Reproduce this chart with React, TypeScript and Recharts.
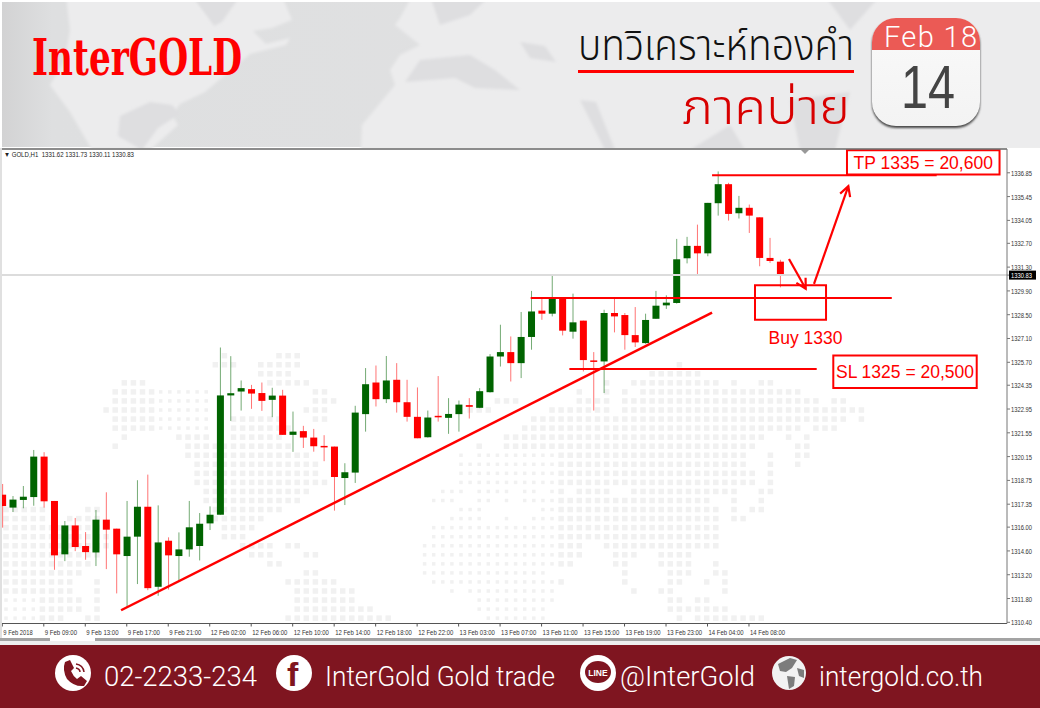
import { Bar, ComposedChart, ReferenceArea, ReferenceDot, ReferenceLine, XAxis, YAxis } from 'recharts'

// GOLD H1 candles
const opens = [1317.91,1317.15,1317.60,1317.77,1320.15,1317.54,1314.40,1316.10,1314.89,1314.51,1316.44,1315.91,1314.30,1315.44,1317.20,1312.49,1315.20,1314.30,1314.69,1314.89,1316.22,1316.73,1323.75,1323.98,1324.12,1323.89,1323.49,1323.74,1321.43,1321.65,1321.27,1320.78,1320.74,1318.89,1319.21,1322.65,1324.51,1323.53,1324.67,1323.35,1322.49,1321.29,1322.55,1322.43,1322.65,1323.18,1323.02,1323.94,1326.04,1326.30,1325.65,1327.19,1328.74,1328.56,1329.44,1327.50,1328.15,1325.81,1325.75,1328.60,1328.48,1327.30,1326.83,1328.26,1329.05,1329.19,1331.82,1332.55,1332.11,1335.06,1336.18,1334.47,1334.79,1334.23,1331.84,1331.62]
const closes = [1317.24,1317.62,1317.79,1320.15,1317.52,1314.34,1316.10,1314.83,1314.53,1316.44,1315.85,1314.40,1315.44,1317.20,1312.41,1315.10,1314.34,1314.69,1315.99,1316.20,1316.73,1323.75,1323.88,1324.18,1323.86,1323.43,1323.74,1321.43,1321.62,1321.27,1320.76,1320.70,1318.95,1319.23,1322.74,1324.41,1323.53,1324.63,1323.35,1322.49,1321.23,1322.45,1322.47,1322.66,1323.21,1323.08,1324.00,1326.04,1326.30,1325.65,1327.19,1328.69,1328.56,1329.44,1327.56,1328.05,1325.83,1325.73,1328.60,1328.40,1327.30,1326.87,1328.19,1329.03,1329.21,1331.76,1332.55,1332.11,1335.08,1336.18,1334.43,1334.79,1334.33,1331.84,1331.66,1330.83]
const highs = [1318.54,1317.83,1318.42,1320.54,1320.41,1317.54,1316.36,1316.54,1315.71,1317.01,1318.05,1315.91,1317.54,1318.76,1319.09,1317.28,1315.40,1315.69,1317.54,1316.83,1317.22,1326.57,1326.06,1324.63,1324.37,1324.51,1324.20,1324.08,1322.80,1321.96,1321.78,1321.41,1320.74,1319.76,1323.14,1325.36,1325.51,1326.07,1325.65,1324.67,1324.22,1322.86,1324.89,1323.59,1323.45,1323.59,1324.18,1326.18,1327.91,1327.22,1328.66,1329.90,1329.44,1330.86,1329.48,1329.74,1328.15,1326.30,1328.79,1329.44,1328.60,1328.95,1328.56,1329.90,1329.64,1332.96,1333.08,1333.80,1335.08,1336.93,1336.26,1335.49,1334.98,1334.23,1333.02,1331.73]
const lows = [1315.97,1316.89,1317.11,1317.26,1317.15,1313.49,1314.00,1314.59,1314.08,1313.71,1313.53,1312.10,1311.27,1312.65,1312.29,1311.96,1312.33,1312.84,1314.26,1314.04,1315.83,1316.73,1322.25,1322.86,1322.96,1322.84,1322.47,1321.43,1320.43,1320.66,1320.44,1319.88,1316.97,1317.30,1318.60,1321.62,1323.10,1323.30,1322.74,1322.21,1321.23,1321.27,1322.21,1321.49,1321.62,1322.39,1323.00,1323.92,1325.45,1324.57,1324.77,1326.44,1328.20,1328.40,1327.28,1327.09,1325.16,1322.86,1323.89,1327.46,1326.44,1326.60,1326.79,1328.26,1328.84,1329.15,1331.52,1330.86,1331.94,1334.33,1334.04,1334.16,1333.31,1331.35,1331.55,1330.11]

const timeLabels = ['9 Feb 2018','9 Feb 09:00','9 Feb 13:00','9 Feb 17:00','9 Feb 21:00','12 Feb 02:00','12 Feb 06:00','12 Feb 10:00','12 Feb 14:00','12 Feb 18:00','12 Feb 22:00','13 Feb 03:00','13 Feb 07:00','13 Feb 11:00','13 Feb 15:00','13 Feb 19:00','13 Feb 23:00','14 Feb 04:00','14 Feb 08:00']
const priceTicks = [1336.85,1335.45,1334.05,1332.70,1331.30,1330.83,1329.90,1328.50,1327.10,1325.70,1324.35,1322.95,1321.55,1320.15,1318.75,1317.35,1316.00,1314.60,1313.20,1311.80,1310.40]
const lastPrice = 1330.83

// trader's drawings, in bar index / price
const trendLine = [{ x: 11.45, y: 1311.11 }, { x: 68.44, y: 1328.62 }]
const tpLine = [{ x: 68.44, y: 1336.71 }, { x: 90.1, y: 1336.71 }]
const buyLine = [{ x: 50.95, y: 1329.48 }, { x: 85.77, y: 1329.48 }]
const slLine = [{ x: 54.68, y: 1325.3 }, { x: 78.53, y: 1325.3 }]
const dropArrow = [{ x: 75.86, y: 1331.78 }, { x: 77.47, y: 1330.03 }]
const riseArrow = [{ x: 78.27, y: 1330.31 }, { x: 81.58, y: 1336.06 }]

// watermark dot map: row, then runs of columns
const dotRows: [number, number[][]][] = [
  [0, [[24,24],[30,32]]],
  [1, [[23,25],[28,32],[74,74]]],
  [2, [[28,31],[71,76]]],
  [3, [[13,15],[29,33],[66,66],[69,78],[80,80],[83,84]]],
  [4, [[12,22],[34,35],[63,63],[66,66],[68,68],[70,87]]],
  [5, [[12,22],[34,36],[54,56],[63,66],[68,89],[91,92]]],
  [6, [[11,22],[33,35],[51,53],[60,66],[68,94]]],
  [7, [[12,22],[25,30],[34,35],[58,92],[94,94]]],
  [8, [[12,22],[25,31],[57,87],[89,91]]],
  [9, [[13,13],[19,22],[25,30],[55,83],[86,86],[88,88]]],
  [10, [[12,12],[20,31],[52,52],[55,82],[87,88]]],
  [11, [[20,33],[50,50],[52,81],[84,84],[87,88]]],
  [12, [[21,34],[50,81],[84,84],[87,87]]],
  [13, [[21,34],[50,82],[84,84]]],
  [14, [[21,35],[50,82],[84,84]]],
  [15, [[22,33],[48,50],[52,55],[57,58],[60,61],[63,66],[69,80],[83,84]]],
  [16, [[22,32],[47,49],[52,53],[55,55],[57,77],[80,80],[83,83]]],
  [17, [[0,4],[9,10],[23,30],[50,52],[59,78],[80,80],[82,83]]],
  [18, [[0,4],[7,10],[23,28],[49,52],[55,55],[58,78],[80,81]]],
  [19, [[0,10],[24,27],[47,78]]],
  [20, [[0,11],[24,26],[47,78]]],
  [21, [[0,11],[26,29],[31,32],[46,63],[66,78]]],
  [22, [[0,10],[27,29],[33,34],[46,63],[67,69],[72,75]]],
  [23, [[0,9],[29,30],[46,62],[67,68],[72,75],[78,78]]],
  [24, [[0,8],[33,34],[46,59],[68,68],[73,75],[78,79]]],
  [25, [[0,7],[10,10],[31,36],[47,61],[68,68],[73,74],[77,77],[79,79]]],
  [26, [[0,7],[10,10],[32,38],[49,49],[51,60],[69,69],[72,73],[79,79]]],
  [27, [[0,8],[10,10],[32,38],[52,60],[73,74],[76,77]]],
  [28, [[0,8],[10,10],[32,40],[52,59],[73,79]]],
  [29, [[0,6],[9,10],[31,42],[53,59],[74,74],[76,83]]],
]

const candles = opens.map((open, i) => ({ i, open, close: closes[i], high: highs[i], low: lows[i] }))
const tickIndexes = timeLabels.map((_, n) => n * 4)

const RED = '#ff0000'
const GREEN = '#006400'
const AXIS_FONT = '"Liberation Sans", sans-serif'

function Candle(props: any) {
  const { x, y, width, height, payload } = props
  const up = payload.close >= payload.open
  const color = up ? GREEN : RED
  const cx = x + width / 2
  const perUnit = height / (payload.high - payload.low)
  const top = y + (payload.high - Math.max(payload.open, payload.close)) * perUnit
  const bottom = y + (payload.high - Math.min(payload.open, payload.close)) * perUnit
  return (
    <g>
      <line x1={cx} x2={cx} y1={y} y2={y + height} stroke={color} strokeOpacity={0.55} />
      <rect x={x} y={top} width={width} height={Math.max(bottom - top, 1.5)} fill={color} />
    </g>
  )
}

function Arrow(props: any) {
  const { x1, y1, x2, y2 } = props
  const a = Math.atan2(y2 - y1, x2 - x1)
  const wing = (d: number) => `${x2 - 11 * Math.cos(a + d)},${y2 - 11 * Math.sin(a + d)}`
  return (
    <g stroke={RED} strokeWidth={2.2} fill="none">
      <line x1={x1} y1={y1} x2={x2} y2={y2} />
      <polyline points={`${wing(0.5)} ${x2},${y2} ${wing(-0.5)}`} />
    </g>
  )
}

function TimeTick({ x, y, payload }: any) {
  const label = timeLabels[payload.value / 4]
  return (
    <text x={x + 1} y={y + 6} fontSize={7.5} fontFamily={AXIS_FONT} fill="#333" textLength={label.length * 2.93} lengthAdjust="spacingAndGlyphs">
      {label}
    </text>
  )
}

function PriceTick({ x, y, payload }: any) {
  const black = payload.value === lastPrice
  return (
    <g>
      {black && <rect x={x - 3} y={y - 4.5} width={27} height={9} fill="#000" />}
      <text x={x - 1} y={y + 3} fontSize={7.5} fontFamily={AXIS_FONT} fill={black ? '#fff' : '#333'} textLength={21} lengthAdjust="spacingAndGlyphs">
        {payload.value.toFixed(2)}
      </text>
    </g>
  )
}

function DotMap() {
  return (
    <svg width={1040} height={708} style={{ position: 'absolute', left: 0, top: 0 }}>
      {dotRows.flatMap(([row, runs]) =>
        runs.flatMap(([from, to]) => {
          const dots = []
          for (let c = from; c <= to; c++) {
            const small = (c >= 46 && c <= 60 && row >= 11) || (c <= 3 && row >= 27) || (c >= 17 && c <= 22 && row <= 8)
            const s = small ? 3.5 : 5.5
            dots.push(<rect key={`${row}-${c}`} x={6 + 9.1 * c - s / 2} y={355.7 + 9.05 * row - s / 2} width={s} height={s} fill="#f1f1f1" />)
          }
          return dots
        })
      )}
    </svg>
  )
}

function Banner() {
  const thai = '"Noto Sans Thai", "Noto Sans Thai Looped", "Noto Sans", sans-serif'
  return (
    <svg width={1040} height={148} style={{ position: 'absolute', left: 0, top: 0 }}>
      <defs>
        <linearGradient id="edge" x1="0" x2="1" y1="0" y2="0">
          <stop offset="0" stopColor="#d2d2d3" />
          <stop offset="0.05" stopColor="#dedfe0" />
          <stop offset="1" stopColor="#e2e2e3" />
        </linearGradient>
        <linearGradient id="sheet" x1="0" x2="0" y1="0" y2="1">
          <stop offset="0" stopColor="#fafafa" />
          <stop offset="1" stopColor="#f3f3f3" />
        </linearGradient>
        <filter id="soft"><feGaussianBlur stdDeviation="1.5" /></filter>
        <filter id="calShadow"><feGaussianBlur stdDeviation="1.2" /></filter>
        <clipPath id="cal"><rect x={872} y={18} width={108} height={108} rx={24} /></clipPath>
      </defs>
      <rect x={0} y={2} width={1040} height={145} fill="url(#edge)" />
      <g fill="#ececed" filter="url(#soft)">
        <path d="M66 -4 L192 -4 L215 22 L222 10 L240 -4 L282 -4 L292 20 L272 28 L253 31 L266 44 L290 38 L286 45 L250 54 L225 75 L205 92 L180 104 L172 115 L178 125 L150 150 L92 150 L70 112 L50 85 L65 60 L70 30 Z" />
        <path d="M361 150 L362 125 L395 85 L390 70 L400 55 L420 45 L395 25 L400 18 L412 -4 L1044 -4 L1044 150 Z" />
      </g>
      <g fill="#dedee0" filter="url(#soft)">
        <path d="M120 116 L150 102 L172 105 L180 114 L158 128 L142 150 L118 136 Z" />
        <path d="M193 -4 L240 -4 L222 22 L214 26 Z" />
        <path d="M420 60 L470 55 L495 70 L520 90 L475 88 L455 78 L405 82 Z" />
        <path d="M430 -4 L490 -4 L470 15 L440 25 Z" />
        <path d="M520 42 L545 46 L556 62 L530 58 Z" />
        <path d="M580 100 L596 102 L615 150 L605 150 Z" />
        <path d="M790 100 L850 92 L835 150 L800 150 Z" />
        <path d="M825 -4 L880 -4 L850 30 Z" />
        <path d="M690 150 L730 125 L745 150 Z" />
      </g>
      <rect x={0} y={0} width={1040} height={2} fill="#fff" />
      <rect x={0} y={2} width={2} height={146} fill="#fff" />

      <text x={32} y={75} fontFamily='"DejaVu Serif", serif' fontWeight={700} fontSize={50} fill={RED} textLength={210} lengthAdjust="spacingAndGlyphs">InterGOLD</text>

      <text x={578} y={60} fontFamily={thai} fontWeight={300} fontSize={42} fill="#111" textLength={276} lengthAdjust="spacingAndGlyphs">บทวิเคราะห์ทองคำ</text>
      <rect x={578} y={70} width={276} height={3} fill={RED} />
      <text x={682} y={124} fontFamily={thai} fontWeight={300} fontSize={48} fill="#d80000" textLength={168} lengthAdjust="spacingAndGlyphs">ภาคบ่าย</text>

      <rect x={872} y={20} width={108} height={108} rx={24} fill="#444" filter="url(#calShadow)" />
      <g clipPath="url(#cal)">
        <rect x={872} y={18} width={108} height={108} fill="url(#sheet)" />
        <rect x={872} y={18} width={108} height={32} fill="#eb5a55" />
      </g>
      <text x={884} y={47} fontFamily="Roboto, sans-serif" fontWeight={300} fontSize={29} fill="#fff" textLength={93}>Feb 18</text>
      <text x={901} y={108} fontFamily='"Liberation Sans", sans-serif' fontSize={61} fill="#444" textLength={54} lengthAdjust="spacingAndGlyphs">14</text>
    </svg>
  )
}

function Footer() {
  const dark = '#7f1520'
  const textProps = { y: 686, fontFamily: 'Roboto, sans-serif', fontWeight: 300, fontSize: 28, fill: '#fff', lengthAdjust: 'spacingAndGlyphs' as const }
  return (
    <svg width={1040} height={72} viewBox="0 636 1040 72" style={{ position: 'absolute', left: 0, top: 636 }}>
      <rect x={0} y={638} width={1040} height={3} fill="#a3a3a3" />
      <rect x={50} y={638} width={45} height={3} fill="#fff" />
      <rect x={0} y={641} width={1040} height={4} fill="#eeeeee" />
      <rect x={0} y={645} width={1040} height={63} fill={dark} />

      <circle cx={73} cy={673} r={18} fill="#fff" />
      <path d="M65 662 L70 660 L74 668 L71 671 Q73 676 77 679 L81 676 L87 681 L84 686 Q74 687 67 679 Q62 670 65 662 Z" fill={dark} />
      <path d="M76 664 Q83 665 84 672 M76 668 Q80 669 80 672" stroke={dark} strokeWidth={1.5} fill="none" />
      <text x={104} textLength={153} {...textProps}>02-2233-234</text>

      <circle cx={294} cy={673} r={18} fill="#fff" />
      <text x={287} y={686} fontFamily='"Liberation Sans", sans-serif' fontWeight={700} fontSize={34} fill={dark}>f</text>
      <text x={325} textLength={230} {...textProps}>InterGold Gold trade</text>

      <circle cx={598} cy={673} r={18} fill="#fff" />
      <ellipse cx={598} cy={672} rx={13} ry={11} fill={dark} />
      <text x={598} y={675.5} textAnchor="middle" fontFamily='"Liberation Sans", sans-serif' fontWeight={700} fontSize={8.5} fill="#fff">LINE</text>
      <text x={620} textLength={135} {...textProps}>@InterGold</text>

      <circle cx={789} cy={673} r={17} fill="#f2f2f2" />
      <path d="M778 664 L790 658 L797 660 L792 668 L786 672 L780 671 Z M787 676 L795 677 L794 686 L789 689 Z M797 668 L804 670 L804 678 L799 676 Z" fill="#7c7c7c" />
      <text x={819} textLength={164} {...textProps}>intergold.co.th</text>
    </svg>
  )
}

export default function App() {
  return (
    <div style={{ position: 'absolute', left: 0, top: 0, width: 1040, height: 708, overflow: 'hidden', background: '#fff' }}>
      <DotMap />
      <Banner />
      <Footer />
      <div style={{ position: 'absolute', left: 0, top: 0 }}>
        <ComposedChart width={1040} height={708} data={candles} margin={{ top: 149, right: 0, bottom: 0, left: 2 }}>
          <XAxis
            dataKey="i"
            type="number"
            domain={[-0.03, 96.88]}
            allowDataOverflow
            ticks={tickIndexes}
            interval={0}
            height={84.5}
            tick={<TimeTick />}
            tickSize={3}
            stroke="#555"
          />
          <YAxis
            orientation="right"
            domain={[1310.33, 1338.25]}
            allowDataOverflow
            ticks={priceTicks}
            interval={0}
            width={33}
            tick={<PriceTick />}
            tickSize={3}
            stroke="#777"
          />
          <ReferenceLine y={1338.25} stroke="#666" strokeWidth={1.5} />
          <ReferenceLine y={lastPrice} stroke="#dcdcdc" strokeWidth={2} />
          <Bar dataKey={(d: any) => [d.low, d.high]} barSize={7} shape={<Candle />} isAnimationActive={false} />

          <ReferenceLine segment={trendLine} stroke={RED} strokeWidth={2.5} />
          <ReferenceLine segment={tpLine} stroke={RED} strokeWidth={2} />
          <ReferenceLine segment={buyLine} stroke={RED} strokeWidth={2} />
          <ReferenceLine segment={slLine} stroke={RED} strokeWidth={2} />
          <ReferenceLine segment={dropArrow} shape={<Arrow />} />
          <ReferenceLine segment={riseArrow} shape={<Arrow />} />

          <ReferenceArea x1={81.45} x2={96.16} y1={1336.75} y2={1338.18} ifOverflow="visible" fill="none" stroke={RED} strokeWidth={2}
            label={{ value: 'TP 1335 = 20,600', position: 'center', fill: RED, fontSize: 17.5, fontFamily: AXIS_FONT }} />
          <ReferenceArea x1={72.58} x2={79.43} y1={1328.2} y2={1330.23} ifOverflow="visible" fill="none" stroke={RED} strokeWidth={2} />
          <ReferenceArea x1={80.13} x2={93.96} y1={1324.18} y2={1326.1} ifOverflow="visible" fill="none" stroke={RED} strokeWidth={2}
            label={{ value: 'SL 1325 = 20,500', position: 'center', fill: RED, fontSize: 17.5, fontFamily: AXIS_FONT }} />
          <ReferenceDot x={77.45} y={1327.14} r={0} stroke="none" fill="none"
            label={{ value: 'Buy 1330', position: 'center', fill: RED, fontSize: 17.5, fontFamily: AXIS_FONT }} />
        </ComposedChart>
      </div>
      <div style={{ position: 'absolute', left: 0, top: 148, width: 2, height: 490, background: '#e0e0e0' }} />
      <svg width={1040} height={160} style={{ position: 'absolute', left: 0, top: 0, pointerEvents: 'none' }}>
        <text x={4} y={157} fontSize={7} fontFamily={AXIS_FONT} fill="#222" textLength={130} lengthAdjust="spacingAndGlyphs" xmlSpace="preserve">▼ GOLD,H1  1331.62 1331.73 1330.11 1330.83</text>
        <polygon points="801,150 809,150 805,154" fill="#999" />
      </svg>
    </div>
  )
}
